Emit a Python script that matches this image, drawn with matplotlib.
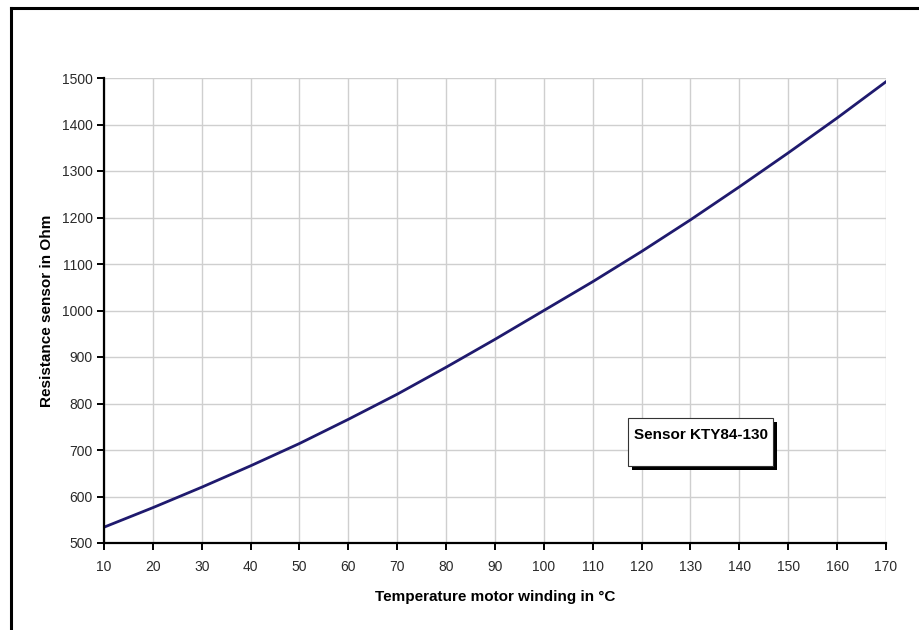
import matplotlib
matplotlib.use("Agg")
import matplotlib.pyplot as plt
from matplotlib.patches import Rectangle
from matplotlib.lines import Line2D

plt.rcParams['font.family'] = ['Liberation Sans', 'DejaVu Sans']

# Temperature (°C) vs resistance (Ohm) of the KTY84-130 sensor
temperature = [10, 20, 30, 40, 50, 60, 70, 80, 90, 100, 110, 120, 130, 140, 150, 160, 170]
resistance = [534, 576, 620, 666, 714, 766, 820, 878, 938, 1000, 1062, 1127, 1195, 1266, 1339, 1414, 1492]

x_ticks = list(range(10, 171, 10))
y_ticks = list(range(500, 1501, 100))

fig = plt.figure(figsize=(9.2, 6.3), dpi=100)
W, H = 920, 630

# outer frame (only top and left visible in the crop)
fig.add_artist(Line2D([11 / W, 11 / W], [0, 1 - 8 / H], color='black', lw=2.2))
fig.add_artist(Line2D([11 / W, 1], [1 - 8 / H, 1 - 8 / H], color='black', lw=2.2))

ax = fig.add_axes([104 / W, 1 - 543 / H, (886 - 104) / W, (543 - 78) / H])
ax.plot(temperature, resistance, color='#1f1a6e', lw=2)

ax.set_xlim(10, 170)
ax.set_ylim(500, 1500)
ax.set_xticks(x_ticks)
ax.set_yticks(y_ticks)
ax.grid(True, color='#cfcfcf', lw=1)
ax.set_axisbelow(True)
for s in ['top', 'right']:
    ax.spines[s].set_visible(False)
for s in ['left', 'bottom']:
    ax.spines[s].set_linewidth(1.6)
ax.tick_params(axis='both', direction='out', length=5, width=1.4, labelsize=10,
               labelcolor='#2a2a2a')
ax.tick_params(axis='x', pad=7)
ax.tick_params(axis='y', pad=3)

ax.set_xlabel('Temperature motor winding in °C', fontsize=11, fontweight='bold', labelpad=12)
ax.set_ylabel('Resistance sensor in Ohm', fontsize=11, fontweight='bold', labelpad=6)

# label box with shadow
bx, by, bw, bh = 628, 418, 145, 48
fig.add_artist(Rectangle(((bx + 4) / W, 1 - (by + bh + 4) / H), bw / W, bh / H,
                         facecolor='black', edgecolor='none'))
fig.add_artist(Rectangle((bx / W, 1 - (by + bh) / H), bw / W, bh / H,
                         facecolor='white', edgecolor='#333333', lw=0.8))
fig.text((bx + bw / 2 + 1) / W, 1 - (by + 17) / H, 'Sensor KTY84-130',
         ha='center', va='center', fontsize=11, fontweight='bold')

fig.savefig('out.png', dpi=100)
